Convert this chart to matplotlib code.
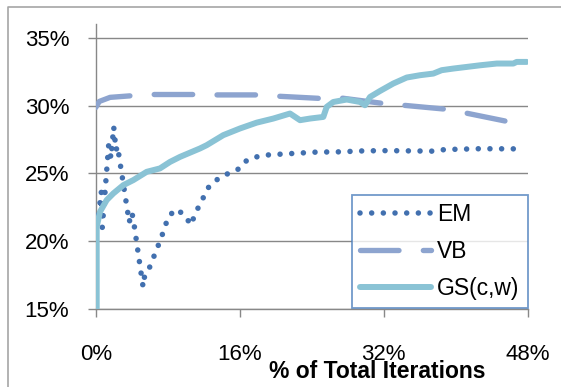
import matplotlib
matplotlib.use("Agg")
import matplotlib.pyplot as plt
from matplotlib.lines import Line2D
import numpy as np

# ---- data ----
em_x = [0.33, 0.62, 0.73, 1.44, 1.70, 2.00, 2.26, 2.42, 3.73, 3.96, 4.14, 5.26, 5.44, 5.84,
        7.26, 8.07, 8.92, 9.92, 10.56, 10.89, 11.40, 12.59, 13.59, 14.73, 15.92, 16.81,
        18.03, 19.26, 21.89, 24.48, 27.11, 29.70, 32.33, 37.50, 38.80, 42.70, 46.67]
em_y = [21.99, 23.65, 21.03, 27.08, 26.13, 28.43, 26.71, 27.01, 21.40, 22.13, 21.81, 16.66,
        17.47, 17.84, 20.22, 21.81, 22.37, 21.93, 21.20, 21.74, 22.50, 24.04, 24.60, 25.00,
        25.34, 25.98, 26.25, 26.37, 26.47, 26.57, 26.59, 26.66, 26.68, 26.64, 26.76, 26.82,
        26.81]

vb_x = [0.0, 0.4, 1.6, 4.0, 6.4, 11.3, 13.4, 18.3, 20.4, 25.3, 27.3, 32.3, 34.5, 39.2,
        41.4, 46.0, 46.8]
vb_y = [29.85, 30.30, 30.60, 30.72, 30.81, 30.81, 30.78, 30.78, 30.68, 30.51, 30.55, 30.12,
        30.00, 29.71, 29.41, 28.79, 28.70]

gs_x = [0.11, 0.11, 0.48, 1.22, 1.96, 3.07, 4.18, 5.67, 7.14, 8.26, 9.37, 10.48, 11.59,
        12.33, 14.18, 16.03, 17.89, 19.73, 21.59, 22.70, 23.81, 25.29, 25.67, 26.40, 27.89,
        29.37, 29.92, 30.48, 31.59, 33.07, 34.56, 36.03, 37.51, 38.44, 39.73, 41.22, 42.70,
        44.56, 46.40, 46.78, 47.89]
gs_y = [15.0, 21.07, 22.18, 23.04, 23.53, 24.14, 24.51, 25.12, 25.37, 25.85, 26.22, 26.53,
        26.84, 27.08, 27.82, 28.31, 28.74, 29.04, 29.41, 28.92, 29.04, 29.16, 29.90, 30.26,
        30.44, 30.26, 30.02, 30.63, 31.07, 31.62, 32.06, 32.23, 32.35, 32.60, 32.72, 32.84,
        32.96, 33.09, 33.09, 33.21, 33.21]

x_ticks = [0, 16, 32, 48]
x_tick_labels = ["0%", "16%", "32%", "48%"]
y_ticks = [15, 20, 25, 30, 35]
y_tick_labels = ["15%", "20%", "25%", "30%", "35%"]
series_names = ["EM", "VB", "GS(c,w)"]

# ---- style ----
plt.rcParams['font.family'] = ['Liberation Sans', 'DejaVu Sans']
C_EM = "#4270AF"
C_VB = "#8DA4CF"
C_GS = "#8AC3D5"
C_GRID = "#888888"

W, H = 561, 387
fig = plt.figure(figsize=(W / 100, H / 100), dpi=100)
L, R, B, T = 95.7, 527.7, 309.3, 24.0
ax = fig.add_axes([L / W, 1 - B / H, (R - L) / W, (B - T) / H])
ax.set_xlim(0, 48)
ax.set_ylim(15, 36)

ax.plot(em_x, em_y, color=C_EM, lw=4.0, linestyle=(0, (0.001, 2.1)),
        dash_capstyle='round', solid_joinstyle='round', label=series_names[0], zorder=3)
ax.plot(vb_x, vb_y, color=C_VB, lw=3.85, linestyle=(0, (7.2, 4.55)),
        dash_capstyle='round', solid_joinstyle='round', label=series_names[1], zorder=3)
ax.plot(gs_x, gs_y, color=C_GS, lw=4.3, solid_capstyle='round', solid_joinstyle='round',
        label=series_names[2], zorder=4)

ax.set_xticks(x_ticks)
ax.set_xticklabels(x_tick_labels)
ax.set_yticks(y_ticks)
ax.set_yticklabels(y_tick_labels)
ax.yaxis.grid(True, color=C_GRID, lw=1.0)
ax.set_axisbelow(True)
for s in ['top', 'right']:
    ax.spines[s].set_visible(False)
for s in ['left', 'bottom']:
    ax.spines[s].set_color(C_GRID)
    ax.spines[s].set_linewidth(1.0)
ax.tick_params(axis='both', direction='out', length=6, width=1.0, color=C_GRID,
               labelsize=16)
ax.tick_params(axis='x', pad=19)
ax.tick_params(axis='y', pad=13)

ax.set_xlabel("% of Total Iterations", fontweight='bold', fontsize=16.5, va='center')
ax.xaxis.set_label_coords((377 - L) / (R - L), (B - 372) / (B - T))

leg = ax.legend(loc='upper left',
                bbox_to_anchor=((352.3 - L) / (R - L), (B - 195) / (B - T)),
                fontsize=16.5, handlelength=3.1, handletextpad=0.26, borderpad=0.35,
                labelspacing=0.62, borderaxespad=0, fancybox=False, frameon=True)
leg.get_frame().set_edgecolor("#4F81BD")
leg.get_frame().set_linewidth(1.3)
leg.set_zorder(10)

# outer chart border (left and top visible)
fig.add_artist(Line2D([8.3 / W, 8.3 / W, 1.0], [0.0, 1 - 7.3 / H, 1 - 7.3 / H],
                      transform=fig.transFigure, color="#A6A6A6", lw=1.2))

fig.savefig("out.png", dpi=100)
